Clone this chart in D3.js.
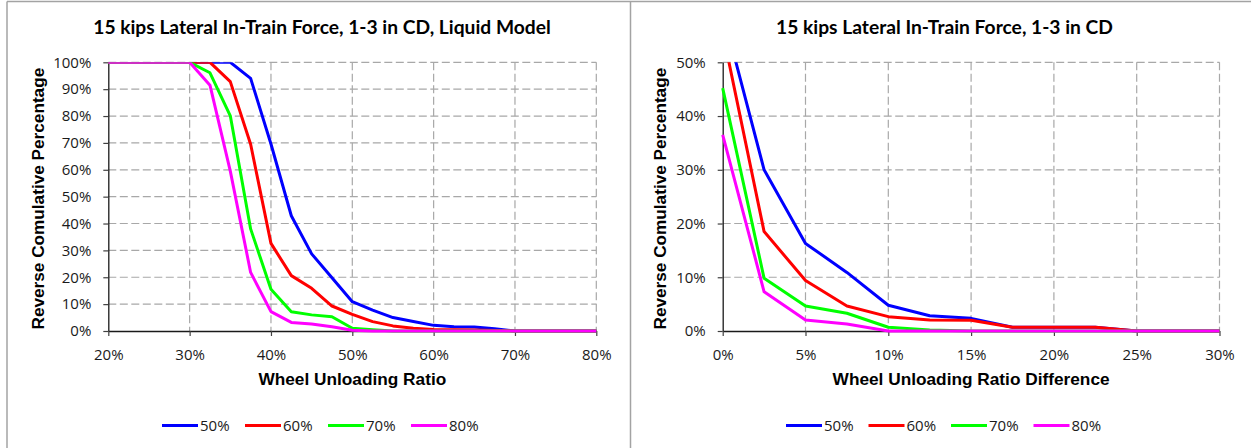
<!DOCTYPE html>
<html>
<head>
<meta charset="utf-8">
<script src="https://cdn.jsdelivr.net/npm/d3@7/dist/d3.min.js"></script>
<style>
  html, body { margin: 0; padding: 0; background: #fff; }
  svg { display: block; }
</style>
</head>
<body>
<svg id="chart" width="1251" height="448"></svg>
<script>
// ---- Data (percent values) ----
const seriesNames = ["50%", "60%", "70%", "80%"];

// Left chart: Wheel Unloading Ratio
const leftX = [20, 22.5, 25, 27.5, 30, 32.5, 35, 37.5, 40, 42.5, 45, 47.5, 50,
               52.5, 55, 57.5, 60, 62.5, 65, 67.5, 70, 72.5, 75, 77.5, 80];
const left50 = [100, 100, 100, 100, 100, 100, 100, 94, 69.6, 42.9, 28.7, 19.8, 10.9,
                7.8, 5.0, 3.5, 2.1, 1.6, 1.5, 0.8, 0, 0, 0, 0, 0];
const left60 = [100, 100, 100, 100, 100, 100, 92.8, 69.5, 32.6, 20.6, 15.9, 9.3, 6.2,
                3.5, 1.9, 1.0, 0.6, 0.5, 0.4, 0.2, 0, 0, 0, 0, 0];
const left70 = [100, 100, 100, 100, 100, 96.1, 80.1, 38.0, 15.5, 7.2, 6.0, 5.3, 1.0,
                0.5, 0, 0, 0, 0, 0, 0, 0, 0, 0, 0, 0];
const left80 = [100, 100, 100, 100, 100, 91.5, 59.5, 21.8, 7.2, 3.2, 2.6, 1.6, 0.3,
                0, 0, 0, 0, 0, 0, 0, 0, 0, 0, 0, 0];
const leftXTicks = [20, 30, 40, 50, 60, 70, 80];
const leftYTicks = [0, 10, 20, 30, 40, 50, 60, 70, 80, 90, 100];

// Right chart: Wheel Unloading Ratio Difference
const rightX = [0, 2.5, 5, 7.5, 10, 12.5, 15, 17.5, 20, 22.5, 25, 27.5, 30];
const right50 = [59.4, 30.0, 16.3, 10.9, 4.8, 2.85, 2.35, 0.7, 0.7, 0.7, 0, 0, 0];
const right60 = [55.6, 18.5, 9.4, 4.65, 2.67, 2.05, 2.0, 0.7, 0.7, 0.7, 0, 0, 0];
const right70 = [45.2, 9.8, 4.65, 3.3, 0.7, 0.2, 0, 0, 0, 0, 0, 0, 0];
const right80 = [36.5, 7.3, 2.05, 1.3, 0, 0, 0, 0, 0, 0, 0, 0, 0];
const rightXTicks = [0, 5, 10, 15, 20, 25, 30];
const rightYTicks = [0, 10, 20, 30, 40, 50];

const leftTitle = "15 kips Lateral In-Train Force, 1-3 in CD, Liquid Model";
const rightTitle = "15 kips Lateral In-Train Force, 1-3 in CD";
const leftXLabel = "Wheel Unloading Ratio";
const rightXLabel = "Wheel Unloading Ratio Difference";
const yLabel = "Reverse Comulative Percentage";

// ---- Drawing ----
const palette = ["#0000ff", "#ff0000", "#00ff00", "#ff00ff"];
const svg = d3.select("#chart");
const tickFont = "'Open Sans', sans-serif";
const boldFont = "'Liberation Sans', Arial, sans-serif";
const titleFont = "Lato, 'Open Sans', sans-serif";

// panel frames
svg.append("rect").attr("x", 0).attr("y", 0).attr("width", 1251).attr("height", 448).attr("fill", "#fff");
const frame = svg.append("g").attr("stroke", "#a3a3a3").attr("stroke-width", 1.5).attr("fill", "none");
frame.append("line").attr("x1", 7).attr("x2", 1251).attr("y1", 1.5).attr("y2", 1.5);
frame.append("line").attr("x1", 7).attr("x2", 7).attr("y1", 1.5).attr("y2", 448);
frame.append("line").attr("x1", 630.5).attr("x2", 630.5).attr("y1", 1.5).attr("y2", 448);

function fitWidth(sel, target) {
  const w = sel.node().getComputedTextLength();
  const fs = parseFloat(sel.attr("font-size"));
  const nfs = fs * target / w;
  sel.attr("font-size", nfs);
  return nfs;
}

function drawChart(cfg) {
  const { left, right, top, bottom } = cfg;
  const x = d3.scaleLinear().domain(cfg.xDomain).range([left, right]);
  const y = d3.scaleLinear().domain(cfg.yDomain).range([bottom, top]);
  const g = svg.append("g");

  // gridlines
  const grid = g.append("g").attr("stroke", "#a8a8a8").attr("stroke-width", 1.2)
    .attr("stroke-dasharray", "8,3.5").attr("fill", "none");
  grid.selectAll(".gy").data(cfg.yTicks.filter(d => d !== cfg.yDomain[0])).join("line")
    .attr("x1", left).attr("x2", right).attr("y1", d => y(d)).attr("y2", d => y(d));
  grid.selectAll(".gx").data(cfg.xTicks.filter(d => d !== cfg.xDomain[0])).join("line")
    .attr("y1", top).attr("y2", bottom).attr("x1", d => x(d)).attr("x2", d => x(d));

  // axes
  const yAxis = g.append("g").attr("transform", `translate(${left},0)`)
    .call(d3.axisLeft(y).tickValues(cfg.yTicks).tickFormat(d => d + "%")
      .tickSize(5).tickSizeOuter(0).tickPadding(12));
  const xAxis = g.append("g").attr("transform", `translate(0,${bottom})`)
    .call(d3.axisBottom(x).tickValues(cfg.xTicks).tickFormat(d => d + "%")
      .tickSize(5).tickSizeOuter(0).tickPadding(13));
  [xAxis, yAxis].forEach(a => {
    a.select(".domain").attr("stroke", "#1a1a1a").attr("stroke-width", 1.3);
    a.selectAll(".tick line").attr("stroke", "#404040").attr("stroke-width", 1.2);
    a.selectAll("text").attr("font-family", tickFont).attr("font-size", 15).attr("fill", "#1a1a1a");
  });

  // series
  const clipId = "clip-" + cfg.id;
  svg.append("defs").append("clipPath").attr("id", clipId).append("rect")
    .attr("x", left - 3).attr("y", top).attr("width", right - left + 6).attr("height", bottom - top + 4);
  const line = d3.line().x(d => x(d[0])).y(d => y(d[1]));
  const lines = g.append("g").attr("clip-path", `url(#${clipId})`);
  cfg.series.forEach((vals, i) => {
    lines.append("path")
      .datum(cfg.xs.map((xv, j) => [xv, vals[j]]))
      .attr("d", line).attr("fill", "none").attr("stroke", palette[i])
      .attr("stroke-width", 3).attr("stroke-linejoin", "round");
  });

  // title
  const t = g.append("text").attr("x", cfg.titleX).attr("y", 34)
    .attr("text-anchor", "middle").attr("font-family", titleFont).attr("font-weight", "bold")
    .attr("font-size", cfg.titleSize || 17).attr("fill", "#000").text(cfg.title);
  if (cfg.titleWidth) cfg.titleSize = fitWidth(t, cfg.titleWidth);

  // x label
  const xl = g.append("text").attr("x", (left + right) / 2).attr("y", 385)
    .attr("text-anchor", "middle").attr("font-family", boldFont).attr("font-weight", "bold")
    .attr("font-size", cfg.xLabelSize || 16).attr("fill", "#000").text(cfg.xLabel);
  if (cfg.xLabelWidth) cfg.xLabelSize = fitWidth(xl, cfg.xLabelWidth);

  // y label
  const yl = g.append("text")
    .attr("transform", `translate(${cfg.yLabelX},${(top + bottom) / 2 + 2}) rotate(-90)`)
    .attr("text-anchor", "middle").attr("font-family", boldFont).attr("font-weight", "bold")
    .attr("font-size", 16).attr("fill", "#000").text(yLabel);
  fitWidth(yl, 262);

  // legend
  const lg = g.append("g");
  seriesNames.forEach((name, i) => {
    const lx = cfg.legendX + i * cfg.legendStep;
    lg.append("line").attr("x1", lx).attr("x2", lx + 36).attr("y1", 425.5).attr("y2", 425.5)
      .attr("stroke", palette[i]).attr("stroke-width", 3);
    lg.append("text").attr("x", lx + 38).attr("y", 431).attr("font-family", tickFont)
      .attr("font-size", 15).attr("fill", "#1a1a1a").text(name);
  });
  return cfg;
}

const leftCfg = drawChart({
  id: "l", left: 108.3, right: 596.3, top: 62.3, bottom: 331,
  xDomain: [20, 80], yDomain: [0, 100], xTicks: leftXTicks, yTicks: leftYTicks,
  xs: leftX, series: [left50, left60, left70, left80],
  title: leftTitle, titleX: 322, titleWidth: 458,
  xLabel: leftXLabel, xLabelWidth: 188, yLabelX: 44,
  legendX: 162, legendStep: 83
});

drawChart({
  id: "r", left: 722.7, right: 1219.5, top: 62.3, bottom: 331,
  xDomain: [0, 30], yDomain: [0, 50], xTicks: rightXTicks, yTicks: rightYTicks,
  xs: rightX, series: [right50, right60, right70, right80],
  title: rightTitle, titleX: 944.5, titleSize: leftCfg.titleSize,
  xLabel: rightXLabel, xLabelSize: leftCfg.xLabelSize, yLabelX: 666,
  legendX: 786, legendStep: 82.5
});
</script>
</body>
</html>
